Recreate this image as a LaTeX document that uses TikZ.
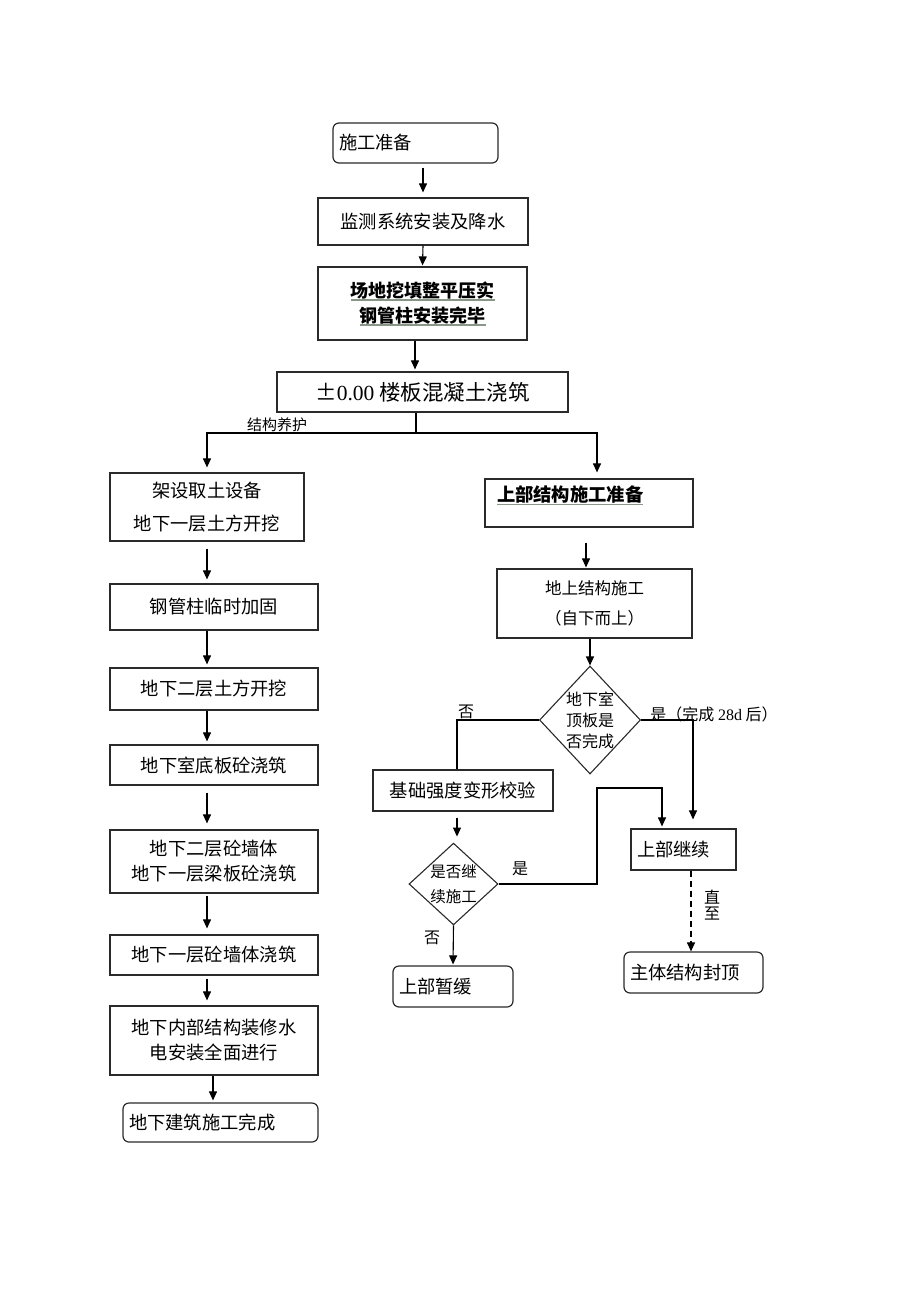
\documentclass[tikz,border=0pt]{standalone}
\usepackage{fontspec}
\setmainfont{Liberation Serif}
\newfontfamily\cjk{Noto Sans CJK SC}
\usepackage{xcolor}
\usetikzlibrary{shapes.geometric,arrows.meta}
\definecolor{ulgray}{HTML}{8A968A}
\definecolor{linegray}{HTML}{2A2A2A}
\newcommand{\setfs}[2]{\fontsize{#1}{#2}\selectfont}
\newcommand{\ulb}[1]{\setbox0\hbox{\bfseries #1}\rlap{\color{ulgray}\rule[-3.5pt]{\wd0}{1.3pt}}\box0}

\begin{document}
\begin{tikzpicture}[x=1pt, y=-1pt, font=\cjk\setfs{18.3}{22},
    box/.style 2 args={draw=linegray, line width=1.2pt, minimum width=#1pt, minimum height=#2pt, inner sep=0pt, align=center},
    lbox/.style 2 args={draw=linegray, line width=1.2pt, text width=#1pt, minimum height=#2pt, inner xsep=6pt, inner ysep=0pt, align=left},
    rlbox/.style 2 args={lbox={#1}{#2}, rounded corners=6pt},
    dia/.style 2 args={draw=linegray, diamond, line width=1.1pt, minimum width=#1pt, minimum height=#2pt, inner sep=-1pt, align=center},
    arr/.style={-{Triangle[length=9pt,width=8pt]}, line width=1.1pt},
    lbl/.style={font=\cjk\setfs{16}{20}}]
    \useasboundingbox (0,0) rectangle (920,1302);
    % top chain
    \node[rlbox={153}{40}] (1) at (415.5,143) {施工准备};
    \node[box={210}{47}] (2) at (423,221.5) {监测系统安装及降水};
    \node[box={209}{73}, font=\cjk\setfs{18}{25}] (3) at (422.5,303.5) {\ulb{场地挖填整平压实}\\\ulb{钢管柱安装完毕}};
    \node[box={291}{40}, font=\cjk\setfs{21.5}{25}] (4) at (422.5,392) {±{\rmfamily 0.00} 楼板混凝土浇筑};
    % left column
    \node[box={194}{68}, font=\cjk\setfs{18.3}{33}] (5) at (207,507) {架设取土设备\\地下一层土方开挖};
    \node[box={208}{46}] (6) at (214,607) {钢管柱临时加固};
    \node[box={208}{42}] (7) at (214,689) {地下二层土方开挖};
    \node[box={208}{40}] (8) at (214,765) {地下室底板砼浇筑};
    \node[box={208}{63}, font=\cjk\setfs{18.3}{25}] (9) at (214,861.5) {地下二层砼墙体\\地下一层梁板砼浇筑};
    \node[box={208}{40}] (10) at (214,955) {地下一层砼墙体浇筑};
    \node[box={208}{69}, font=\cjk\setfs{18.3}{25}] (11) at (214,1040.5) {地下内部结构装修水\\电安装全面进行};
    \node[rlbox={183}{39}] (12) at (220.5,1122.5) {地下建筑施工完成};
    % right column
    \node[lbox={196}{48}] (13) at (589,503) {\hspace*{6pt}\raisebox{6pt}[13pt][4pt]{\ulb{上部结构施工准备}}};
    \node[box={195}{69}, font=\cjk\setfs{16.5}{30}] (14) at (594.5,603.5) {地上结构施工\\（自下而上）};
    \node[dia={96}{108}, font=\cjk\setfs{16}{21}] (15) at (590,720) {地下室\\顶板是\\否完成};
    \node[box={180}{41}] (16) at (463,790.5) {基础强度变形校验};
    \node[dia={89}{81}, font=\cjk\setfs{15.5}{25}] (17) at (453.5,884) {是否继\\续施工};
    \node[rlbox={108}{41}] (18) at (453,986.5) {上部暂缓};
    \node[lbox={93}{41}] (19) at (683.5,849.5) {上部继续};
    \node[rlbox={127}{41}] (20) at (693.5,972.5) {主体结构封顶};
    % labels
    \node[font=\cjk\setfs{15}{18}] (21) at (277,425) {结构养护};
    \node[lbl] (22) at (466,712) {否};
    \node[lbl] (23) at (714,714) {是（完成 {\rmfamily 28d} 后）};
    \node[lbl] (24) at (520,869) {是};
    \node[lbl] (25) at (432,938) {否};
    \node[lbl, align=center, font=\cjk\setfs{16}{16}] (26) at (712,905) {直\\至};
    \coordinate (split) at (416,433);
    \coordinate (turn) at (597,788);
    % connectors
    \draw[arr, shorten <=4pt, shorten >=5pt] (1.south -| 2.north) -- (2.north);
    \draw[arr, shorten >=1pt] (2.south) -- (3.north);
    \draw[arr, shorten >=2pt] ([xshift=-7.5pt]3.south) -- ([xshift=-7.5pt]4.north);
    \draw[line width=1.1pt] (4.south -| split) -- (split);
    \draw[arr, shorten >=5pt] (split) -| (5.north);
    \draw[arr, shorten >=6pt] (split) -| ([xshift=8pt]13.north);
    \draw[arr, shorten <=7pt, shorten >=4pt] (5.south) -- (5.south |- 6.north);
    \draw[arr, shorten >=3pt] ([xshift=-7pt]6.south) -- ([xshift=-7pt]7.north);
    \draw[arr, shorten >=3pt] ([xshift=-7pt]7.south) -- ([xshift=-7pt]8.north);
    \draw[arr, shorten <=7pt, shorten >=6pt] ([xshift=-7pt]8.south) -- ([xshift=-7pt]9.north);
    \draw[arr, shorten <=2pt, shorten >=6pt] ([xshift=-7pt]9.south) -- ([xshift=-7pt]10.north);
    \draw[arr, shorten <=3pt, shorten >=5pt] ([xshift=-7pt]10.south) -- ([xshift=-7pt]11.north);
    \draw[arr, shorten >=2pt] ([xshift=-1pt]11.south) -- ([xshift=-1pt]11.south |- 12.north);
    \draw[arr, shorten <=15pt, shorten >=1pt] ([xshift=-3pt]13.south) -- ([xshift=-3pt]13.south |- 14.north);
    \draw[arr] (14.south -| 15.north) -- (15.north);
    \draw[arr, shorten >=9pt] (15.east) -| ([xshift=9.5pt]19.north);
    \draw[line width=1.1pt] (15.west) -| ([xshift=-6pt]16.north);
    \draw[arr, shorten <=6pt, shorten >=6pt] ([xshift=-6pt]16.south) -- ([xshift=-6pt]16.south |- 17.north);
    \draw[arr, shorten >=2pt] (17.east) -| (turn) -| ([xshift=-21.5pt]19.north);
    \draw[arr, shorten >=1pt] (17.south) -- (18.north);
    \draw[arr, dash pattern=on 6pt off 4pt] ([xshift=7.5pt]19.south) -- ([xshift=7.5pt]19.south |- 20.north);
\end{tikzpicture}
\end{document}
